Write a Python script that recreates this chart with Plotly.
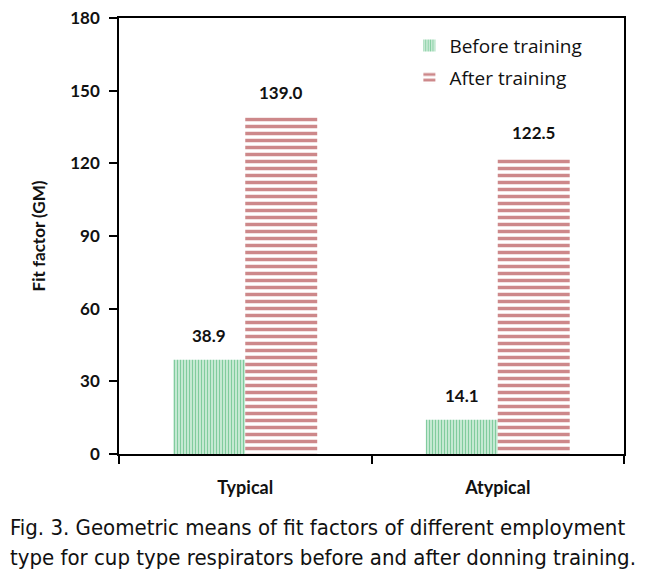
import plotly.graph_objects as go

categories = ["Typical", "Atypical"]
before_training = [38.9, 14.1]
after_training = [139.0, 122.5]
y_ticks = [0, 30, 60, 90, 120, 150, 180]

BARGAP = 0.43
PLOT_W = 657 - 111 - 41
bar_px = PLOT_W / len(categories) * (1 - BARGAP) / 2

fig = go.Figure()
fig.add_trace(go.Bar(
    x=categories, y=before_training, name="Before training", legendgroup="a",
    marker=dict(color="white", line=dict(width=0),
                pattern=dict(shape="|", fgcolor="#0f9e47", bgcolor="#f2fbf5", size=3, solidity=0.6)),
))
fig.add_trace(go.Bar(
    x=categories, y=after_training, name="After training", legendgroup="b",
    marker=dict(color="white", line=dict(width=0),
                pattern=dict(shape="-", fgcolor="#9c1216", bgcolor="white", size=7, solidity=0.5)),
))

for series, sign in ((before_training, -1), (after_training, 1)):
    for c, v in zip(categories, series):
        fig.add_annotation(
            x=c, y=v, text=f"{v:.1f}", showarrow=False,
            xanchor="center", yanchor="bottom", xshift=sign * bar_px / 2, yshift=12,
            font=dict(family="Lato", size=17, color="#111111", weight="bold"),
        )

fig.update_layout(
    width=657, height=578,
    margin=dict(l=111, r=41, t=10, b=132, autoexpand=False),
    paper_bgcolor="white", plot_bgcolor="white",
    barmode="group", bargap=BARGAP, bargroupgap=0,
    showlegend=True,
    legend=dict(x=0.575, y=0.98, xanchor="left", yanchor="top",
                font=dict(family="Open Sans", size=19, color="#111111"),
                bgcolor="rgba(0,0,0,0)", tracegroupgap=4, itemwidth=30),
    xaxis=dict(
        automargin=False,
        showline=True, linecolor="black", linewidth=1.5, mirror=True,
        ticks="outside", ticklen=8, tickcolor="black", tickwidth=1.5,
        tickson="boundaries", ticklabelstandoff=17,
        tickfont=dict(family="Lato", size=18, color="#111111", weight="bold"),
        showgrid=False,
    ),
    yaxis=dict(
        automargin=False,
        range=[0, 180], tickvals=y_ticks, ticklabeloverflow="allow",
        showline=True, linecolor="black", linewidth=1.5, mirror=True,
        ticks="outside", ticklen=8, tickcolor="black", tickwidth=1.5,
        ticklabelstandoff=6,
        tickfont=dict(family="Lato", size=17, color="#111111", weight="bold"),
        showgrid=False, zeroline=False,
        title=dict(text="Fit factor (GM)", standoff=20,
                   font=dict(family="Lato", size=17, color="#111111", weight="bold")),
    ),
)

fig.add_annotation(
    text="Fig. 3. Geometric means of fit factors of different employment",
    xref="paper", yref="paper", x=-111/505, y=-(527-454)/436,
    xanchor="left", yanchor="middle", showarrow=False,
    font=dict(family="DejaVu Sans Condensed", size=22, color="#111111"),
)
fig.add_annotation(
    text="type for cup type respirators before and after donning training.",
    xref="paper", yref="paper", x=-111/505, y=-(557-454)/436,
    xanchor="left", yanchor="middle", showarrow=False,
    font=dict(family="DejaVu Sans Condensed", size=22, color="#111111"),
)

fig.write_html("out.html")
